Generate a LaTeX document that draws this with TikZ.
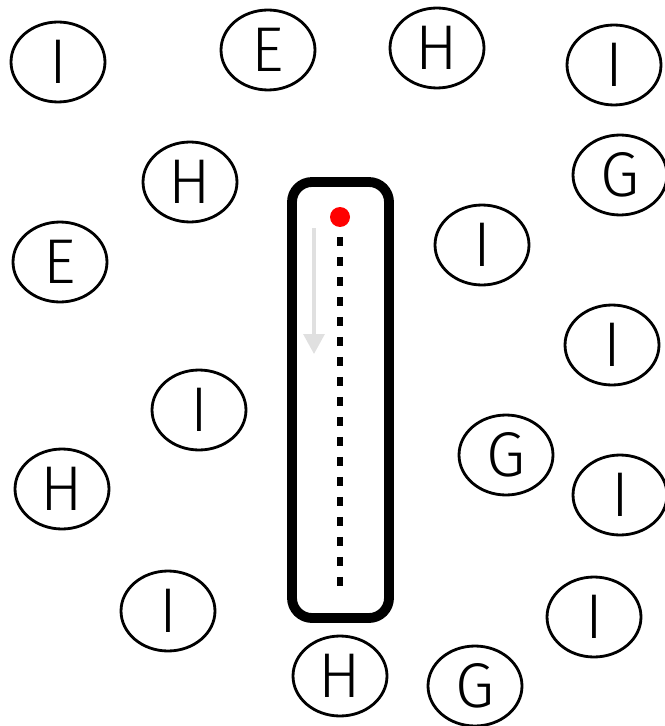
\documentclass[tikz,border=0pt]{standalone}
\usepackage{fontspec}
\setmainfont{Fira Sans}[UprightFont=* Light]
\usetikzlibrary{shapes.geometric,arrows.meta}
\begin{document}
\begin{tikzpicture}[
  x=0.02cm, y=-0.02cm,
  ltr/.style={draw, ellipse, line width=1.6pt, inner sep=0pt,
              minimum width=1.88cm, minimum height=1.6cm,
              font=\fontsize{36}{36}\selectfont},
  tube/.style={line width=5.6pt, rounded corners=0.4cm},
  trail/.style={line width=3pt, dash pattern=on 0.18cm off 0.22cm},
  drift/.style={draw=black!12, line width=1.8pt,
                -{Triangle[length=0.4cm, width=0.42cm]}},
]
\useasboundingbox (0,0) rectangle (665,726);
% letters round the tube
\node[ltr] (i1) at (58,62) {I};
\node[ltr] (e1) at (268,50) {E};
\node[ltr] (h1) at (437,48) {H};
\node[ltr] (i2) at (614,65) {I};
\node[ltr] (h2) at (190,182) {H};
\node[ltr] (g1) at (620,175) {G};
\node[ltr] (e2) at (60,262) {E};
\node[ltr] (i3) at (482,245) {I};
\node[ltr] (i4) at (612,345) {I};
\node[ltr] (i5) at (199,410) {I};
\node[ltr] (g2) at (506,455) {G};
\node[ltr] (h3) at (62,489) {H};
\node[ltr] (i6) at (620,495) {I};
\node[ltr] (i7) at (168,611) {I};
\node[ltr] (i8) at (594,617) {I};
\node[ltr] (h4) at (340,676) {H};
\node[ltr] (g3) at (475,686) {G};
% the tube
\draw[tube] (292,182) rectangle (389,618);
\coordinate (top) at (340,217);
\coordinate (bot) at (340,590);
\draw[trail] (top) -- (bot);
\fill[red] (top) circle (0.2cm);
\coordinate (d1) at (314,228);
\coordinate (d2) at (314,354);
\draw[drift] (d1) -- (d2);
\end{tikzpicture}
\end{document}
